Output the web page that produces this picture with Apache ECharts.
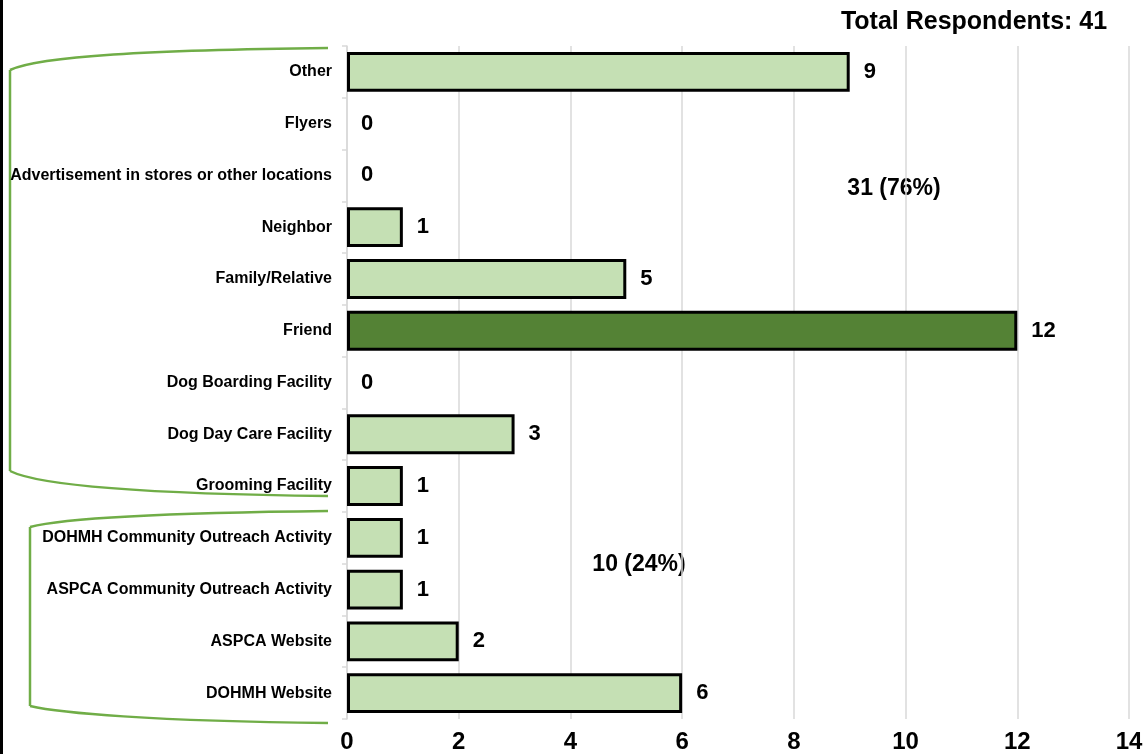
<!DOCTYPE html>
<html>
<head>
<meta charset="utf-8">
<script src="https://cdn.jsdelivr.net/npm/echarts@6/dist/echarts.min.js"></script>
<style>
  html, body { margin: 0; padding: 0; background: #fff; }
  #chart { width: 1148px; height: 754px; }
</style>
</head>
<body>
<div id="chart"></div>
<script>
// How respondents heard about the program (listed top to bottom)
const categories = [
  'Other',
  'Flyers',
  'Advertisement in stores or other locations',
  'Neighbor',
  'Family/Relative',
  'Friend',
  'Dog Boarding Facility',
  'Dog Day Care Facility',
  'Grooming Facility',
  'DOHMH Community Outreach Activity',
  'ASPCA Community Outreach Activity',
  'ASPCA Website',
  'DOHMH Website'
];
const counts = [9, 0, 0, 1, 5, 12, 0, 3, 1, 1, 1, 2, 6];
const xTicks = [0, 2, 4, 6, 8, 10, 12, 14];
const totalLabel = 'Total Respondents: 41';
const groupLabels = ['31 (76%)', '10 (24%)'];

const LIGHT = '#c5e0b4';
const DARK = '#548235';
const BRACKET = '#70ad47';
const FONT = '"Liberation Sans", Arial, sans-serif';
const maxCount = Math.max(...counts);

const chart = echarts.init(document.getElementById('chart'));

const barData = counts.map(v => ({
  value: v,
  itemStyle: {
    color: v === maxCount ? DARK : LIGHT,
    borderColor: '#000',
    borderWidth: v === 0 ? 0 : 3
  }
}));

// A curly group bracket: curved top arm, straight spine, curved bottom arm
function bracket(xEnd, xSpine, yTop, yTopBend, yBotBend, yBot) {
  const st = { fill: null, stroke: BRACKET, lineWidth: 2.5 };
  return {
    type: 'group', silent: true,
    children: [
      {
        type: 'bezierCurve',
        shape: { x1: xEnd, y1: yTop, cpx1: 150, cpy1: yTop + 2, cpx2: xSpine + 30, cpy2: yTop + 8, x2: xSpine, y2: yTopBend },
        style: st
      },
      {
        type: 'line',
        shape: { x1: xSpine, y1: yTopBend, x2: xSpine, y2: yBotBend },
        style: st
      },
      {
        type: 'bezierCurve',
        shape: { x1: xSpine, y1: yBotBend, cpx1: xSpine + 30, cpy1: yBot - 10, cpx2: 150, cpy2: yBot - 2, x2: xEnd, y2: yBot },
        style: st
      }
    ]
  };
}

chart.setOption({
  animation: false,
  backgroundColor: '#fff',
  grid: { left: 347, right: 19, top: 46, bottom: 35 },
  xAxis: {
    type: 'value',
    min: xTicks[0],
    max: xTicks[xTicks.length - 1],
    interval: 2,
    axisLine: { show: false },
    axisTick: { show: false },
    splitLine: { show: true, lineStyle: { color: '#d9d9d9', width: 1.5 } },
    axisLabel: {
      margin: 11,
      fontSize: 24,
      fontWeight: 'bold',
      color: '#000',
      fontFamily: FONT
    }
  },
  yAxis: {
    type: 'category',
    inverse: true,
    data: categories,
    axisLine: { show: true, lineStyle: { color: '#d9d9d9', width: 1.5 } },
    axisTick: { show: true, length: 5, lineStyle: { color: '#d9d9d9', width: 1.5 } },
    axisLabel: {
      margin: 15,
      fontSize: 16,
      fontWeight: 'bold',
      color: '#000',
      fontFamily: FONT
    }
  },
  series: [{
    type: 'bar',
    data: barData,
    barCategoryGap: '23%',
    label: {
      show: true,
      position: 'right',
      distance: 14,
      fontSize: 22,
      fontWeight: 'bold',
      color: '#000',
      fontFamily: FONT
    }
  }],
  graphic: [
    // left frame edge
    { type: 'rect', shape: { x: 0, y: 0, width: 3, height: 754 }, style: { fill: '#000' }, silent: true },
    bracket(328, 10, 48, 70, 471, 496),
    bracket(328, 30, 511, 527, 706, 723),
    {
      type: 'text', silent: true, x: 974, y: 22,
      style: { text: totalLabel, font: 'bold 25px ' + FONT, fill: '#000', align: 'center', verticalAlign: 'middle' }
    },
    {
      type: 'text', silent: true, x: 894, y: 189,
      style: { text: groupLabels[0], font: 'bold 23px ' + FONT, fill: '#000', align: 'center', verticalAlign: 'middle' }
    },
    {
      type: 'text', silent: true, x: 639, y: 565,
      style: { text: groupLabels[1], font: 'bold 23px ' + FONT, fill: '#000', align: 'center', verticalAlign: 'middle' }
    }
  ]
});
</script>
</body>
</html>
